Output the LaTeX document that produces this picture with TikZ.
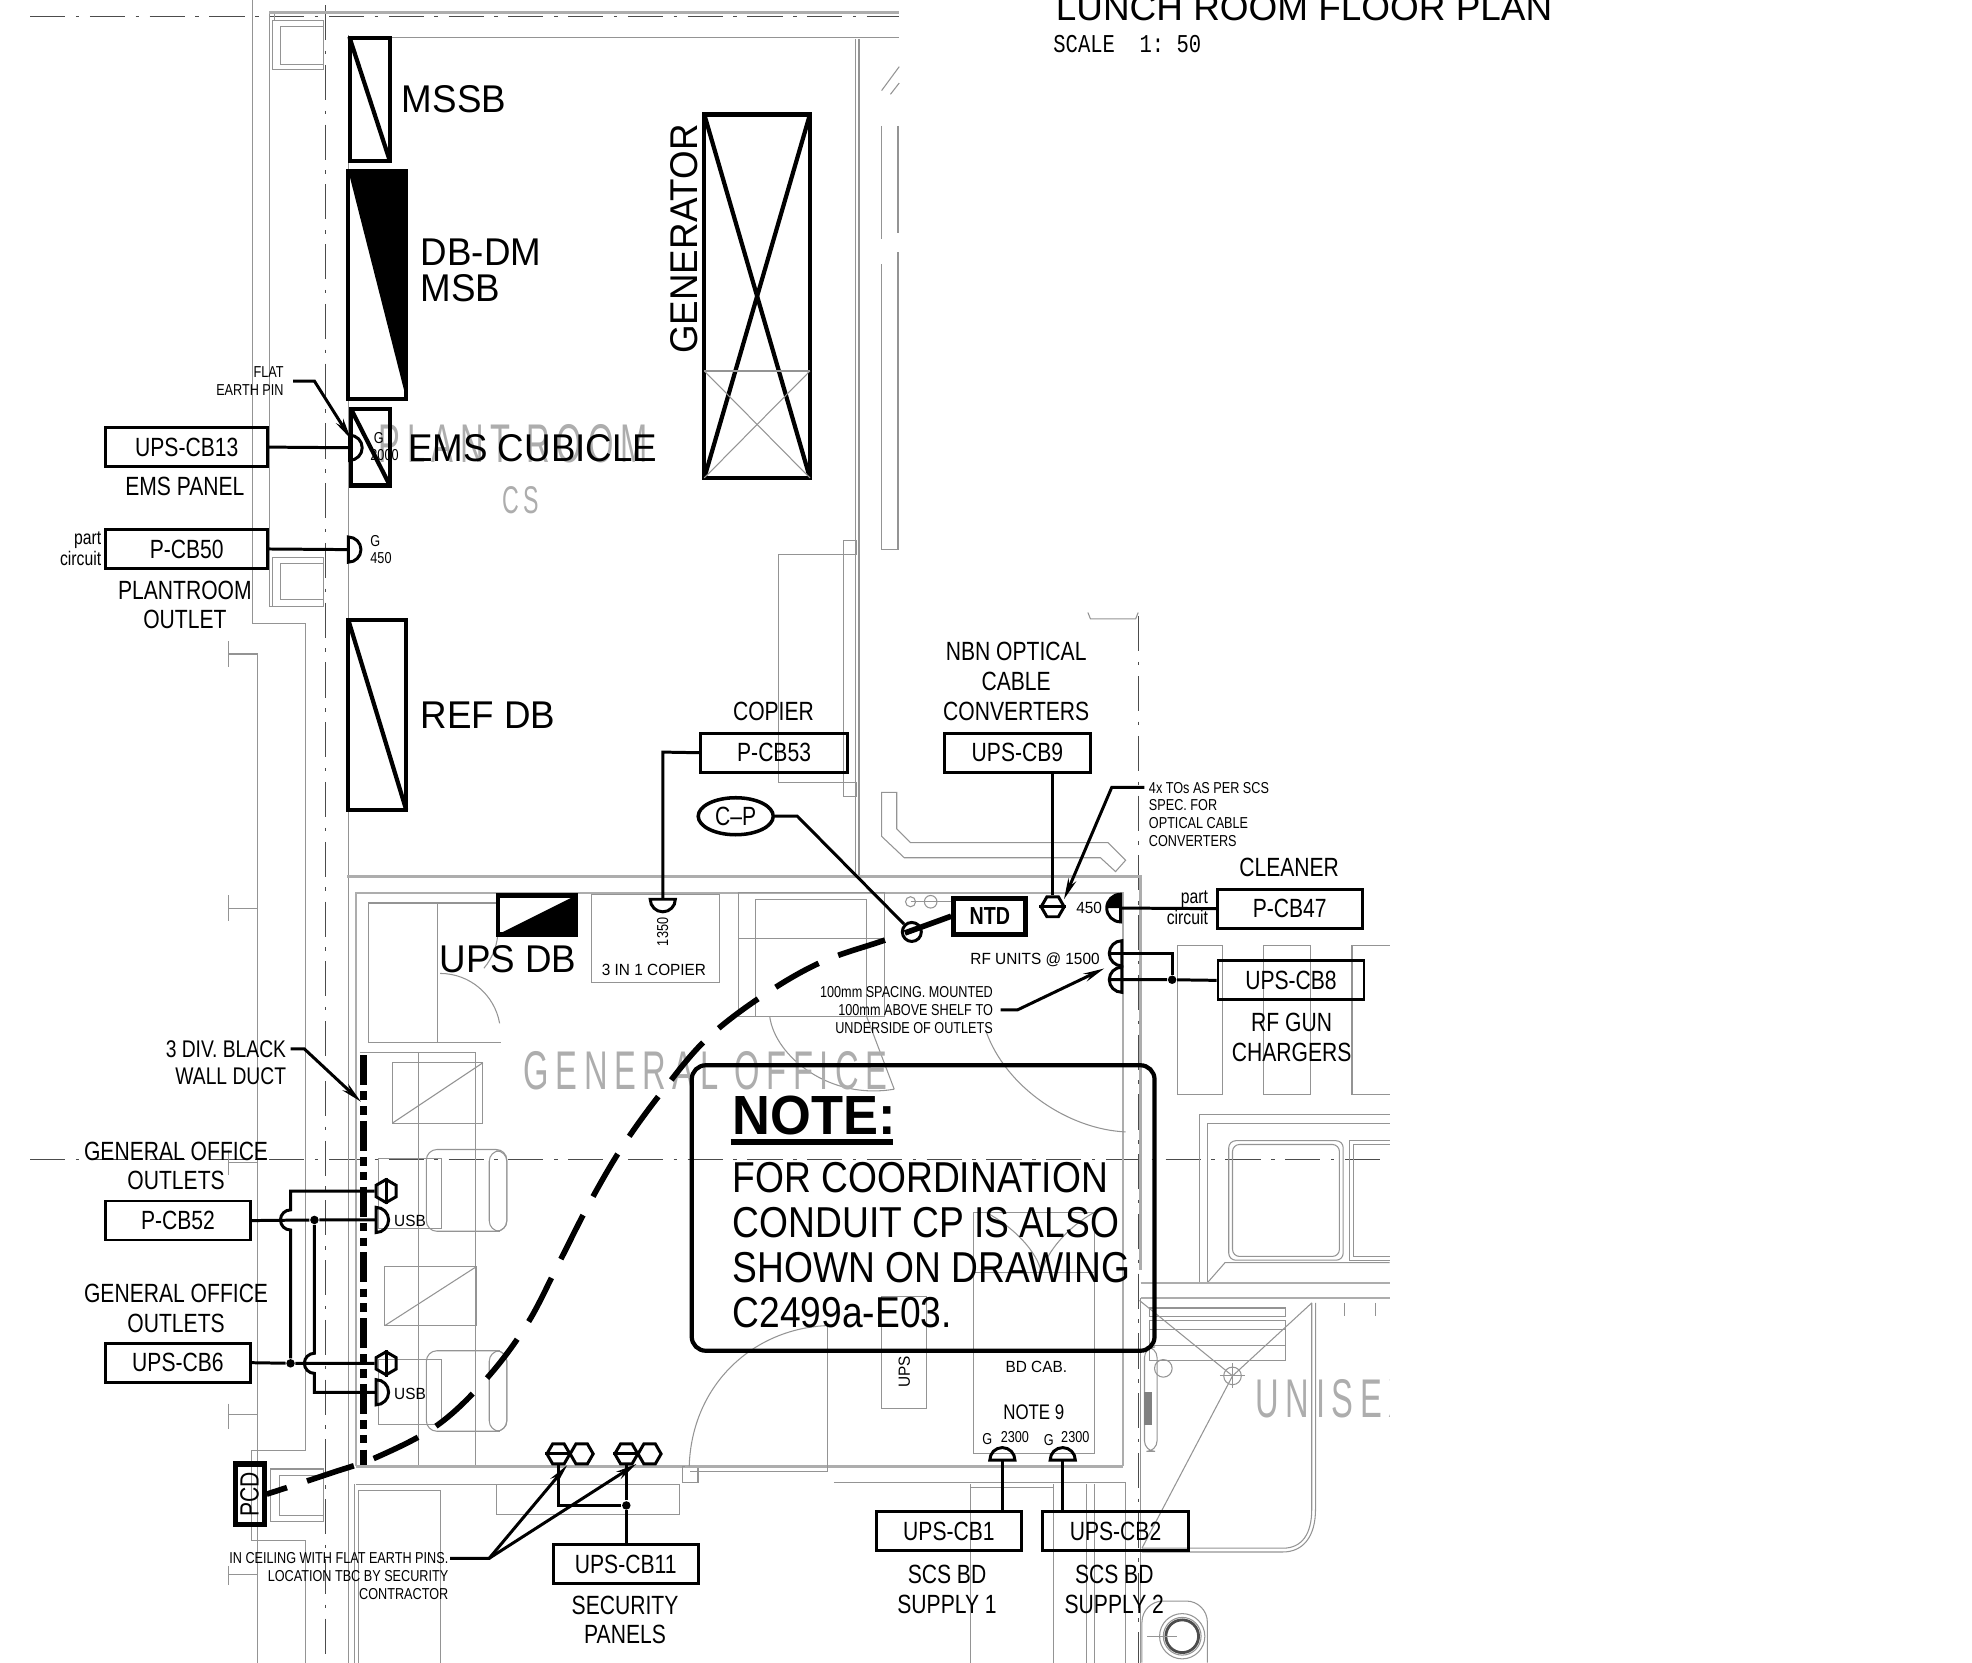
\documentclass[tikz,border=0pt]{standalone}
\usepackage{fontspec}
\usetikzlibrary{arrows.meta,shapes.geometric}
\setmainfont{Liberation Sans}
\newfontfamily\labelfont[FakeStretch=0.8]{Liberation Sans}
\newfontfamily\boardfont[FakeStretch=0.95]{Liberation Sans}
\newfontfamily\notefont[FakeStretch=0.86]{Liberation Sans}
\newfontfamily\roomfont[FakeStretch=0.6,LetterSpace=12]{Liberation Sans}
\newfontfamily\scalefont[FakeStretch=0.8]{Liberation Mono}
\tikzset{
  >={Stealth[length=6pt,width=2.4pt]},
  plan/.style={draw=black!42,line width=0.3pt},
  wall/.style={draw=black!32,line width=0.7pt},
  gridline/.style={draw=black!70,line width=0.35pt,dash pattern=on 10pt off 3pt on 1pt off 3pt},
  wire/.style={line width=0.85pt},
  board/.style={line width=1.2pt},
  conduit/.style={line width=1.6pt,dash pattern=on 14pt off 6pt},
  ductline/.style={line width=1.9pt,dash pattern=on 8.5pt off 1.8pt on 2.4pt off 1.8pt on 2.4pt off 1.8pt},
  cbbox/.style={draw,line width=0.8pt,minimum height=0.39cm,inner sep=0pt,font=\labelfont\fontsize{7.5}{8.5}\selectfont},
  tagtext/.style={inner sep=0pt,align=center,font=\labelfont\fontsize{7.5}{8.5}\selectfont},
  parttext/.style={inner sep=0pt,align=right,anchor=east,font=\labelfont\fontsize{5.6}{6}\selectfont},
  tinytext/.style={inner sep=0pt,font=\labelfont\fontsize{4.5}{5.05}\selectfont},
  smalltext/.style={inner sep=0pt,font=\boardfont\fontsize{4.6}{5.05}\selectfont},
  boardtext/.style={inner sep=0pt,align=left,anchor=west,font=\boardfont\fontsize{11}{10.2}\selectfont},
  roomtext/.style={inner sep=0pt,text=black!32,font=\roomfont\fontsize{15.5}{16}\selectfont},
  jdot/.style={circle,fill,inner sep=0pt,minimum size=0.085cm},
  hexflat/.style={draw,wire,regular polygon,regular polygon sides=6,inner sep=0pt,minimum size=0.23cm},
  hexup/.style={hexflat,shape border rotate=30},
  socket/.pic={\draw[wire] (0,10) arc[start angle=90,end angle=-90,radius=10] -- cycle;}
}
\begin{document}
\begin{tikzpicture}[x=0.012577cm,y=-0.012577cm]
\useasboundingbox (0,0) rectangle (1568,1322);
\draw[gridline] (24,13) -- (715,13);
\draw[gridline] (24,922) -- (1105,922);
\draw[gridline] (259,4) -- (259,1322);
\draw[gridline] (905,490) -- (905,1322);
\draw[plan] (201,0) -- (201,496) -- (243,496) -- (243,1153) -- (200,1153) -- (200,1225) -- (243,1225) -- (243,1322);
\draw[plan] (214,10) -- (214,482) -- (258,482);
\draw[plan] (218,10) -- (218,17);
\draw[wall] (214,10) -- (715,10);
\draw[plan] (276,30) -- (715,30);
\draw[plan] (277,28) -- (277,1322);
\draw[plan] (205,520) -- (205,1322);
\draw[plan] (217,16) rectangle (257,55);
\draw[plan] (223,21) rectangle (257,51);
\draw[plan] (217,443) rectangle (257,482);
\draw[plan] (223,448) rectangle (257,477);
\draw[plan] (215,1168) rectangle (257,1210);
\draw[plan] (222,1173) rectangle (257,1205);
\draw[plan] (182,510) -- (182,530);
\draw[plan] (182,520) -- (205,520);
\draw[plan] (182,712) -- (182,732);
\draw[plan] (182,722) -- (205,722);
\draw[plan] (182,914) -- (182,934);
\draw[plan] (182,924) -- (205,924);
\draw[plan] (182,1116) -- (182,1136);
\draw[plan] (182,1125) -- (205,1125);
\draw[plan] (182,1245) -- (182,1260);
\draw[plan] (182,1252) -- (205,1252);
\draw[plan] (680,31) -- (680,698);
\draw[plan] (683,31) -- (683,698);
\draw[plan] (701,100) -- (701,190);
\draw[plan] (714,100) -- (714,185);
\draw[plan] (701,210) -- (701,437) -- (714,437) -- (714,200);
\draw[plan] (701,72) -- (715,53);
\draw[plan] (708,75) -- (715,66);
\draw[plan] (619,441) rectangle (671,622);
\draw[plan] (671,430) rectangle (681,441);
\draw[plan] (671,622) rectangle (681,633);
\draw[plan] (701,630) -- (713,630) -- (713,659) -- (724,670) -- (881,670) -- (895,684) -- (887,693) -- (875,682) -- (719,682) -- (701,665) -- cycle;
\draw[plan] (865,487) -- (867,492) -- (903,492) -- (905,487);
\draw[wall] (276,697) -- (907,697) -- (907,1010);
\draw[wall] (283,1166) -- (283,710) -- (893,710) -- (893,1166);
\draw[plan] (285,1322) -- (285,1185) -- (350,1185) -- (350,1322);
\draw[plan] (282,1180) -- (282,1322);
\draw[wall] (283,1166) -- (545,1166);
\draw[plan] (283,1180) -- (395,1180);
\draw[plan] (395,1180) rectangle (540,1204);
\draw[plan] (543,1166) rectangle (555,1179);
\draw[plan] (549,1170) -- (658,1170);
\draw[wall] (545,1166) -- (893,1166);
\draw[plan] (663,1179) -- (895,1179) -- (895,1322);
\draw[plan] (293,829) -- (293,718) -- (396,718);
\draw[plan] (293,829) -- (398,829);
\draw[plan] (348,719) -- (348,829);
\draw[plan] (396,739) arc[start angle=0,end angle=40,radius=48];
\draw[plan] (350,774) arc[start angle=-90,end angle=-10,radius=48];
\draw[plan] (470,711) rectangle (572,781);
\draw[plan] (587,710) rectangle (703,808);
\draw[plan] (601,715) rectangle (689,808);
\draw[plan] (587,746) -- (703,746);
\draw[plan] (612,808) .. controls (616,840) and (660,875) .. (711,866);
\draw[plan] (711,866) -- (689,808);
\draw[plan] (784,820) .. controls (800,865) and (850,898) .. (895,900);
\draw[plan] (286,837) -- (378,837) -- (378,1165);
\draw[plan] (333,837) -- (333,1165);
\draw[plan] (312,845) rectangle (384,893);
\draw[plan] (312,893) -- (384,845);
\draw[plan] (306,1007) rectangle (379,1054);
\draw[plan] (306,1054) -- (379,1007);
\draw[plan,rounded corners=3pt] (339,914) rectangle (403,979);
\draw[plan,rounded corners=3pt] (389,915) rectangle (403,979);
\draw[plan] (301,921) rectangle (351,977);
\draw[plan,rounded corners=3pt] (339,1074) rectangle (403,1138);
\draw[plan,rounded corners=3pt] (389,1074) rectangle (403,1138);
\draw[plan] (301,1081) rectangle (351,1133);
\draw[plan] (548,1166) .. controls (550,1100) and (600,1056) .. (658,1054);
\draw[plan] (658,1054) -- (658,1170);
\draw[plan] (701,1031) rectangle (737,1120);
\draw[plan] (774,964) rectangle (870,1156);
\draw[plan] (774,1012) -- (870,1012);
\draw[plan] (784,964) .. controls (805,975) and (825,995) .. (828,1012);
\draw[plan] (870,964) .. controls (850,975) and (832,995) .. (828,1012);
\draw[plan] (772,1322) -- (772,1180);
\draw[plan] (838,1322) -- (838,1180);
\draw[plan] (772,1183) -- (838,1183);
\draw[plan] (864,1322) -- (864,1180);
\draw[plan] (870,1322) -- (870,1180);
\draw[plan] (724,717) circle [radius=4];
\draw[plan] (740,717) circle [radius=5];
\draw[plan] (724,717) -- (757,717);
\draw[plan] (936,752) rectangle (972,870);
\draw[plan] (1005,752) rectangle (1042,870);
\draw[plan] (1105,752) -- (1075,752) -- (1075,870) -- (1105,870);
\draw[plan] (1105,886) -- (954,886) -- (954,1020);
\draw[plan] (1105,893) -- (960,893) -- (960,1020);
\draw[plan,rounded corners=2pt] (977,907) rectangle (1068,1002);
\draw[plan,rounded corners=2pt] (980,910) rectangle (1065,999);
\draw[plan] (1105,907) -- (1073,907) -- (1073,1002) -- (1105,1002);
\draw[plan] (1105,910) -- (1076,910) -- (1076,999) -- (1105,999);
\draw[plan] (960,1020) -- (974,1004) -- (1105,1004);
\draw[wall] (907,1020) -- (1105,1020);
\draw[wall] (907,1032) -- (1105,1032);
\draw[plan] (907,1032) -- (907,1322);
\draw[plan] (914,1040) rectangle (1022,1047);
\draw[plan] (914,1050) rectangle (1022,1057);
\draw[plan] (914,1057) rectangle (1022,1070);
\draw[plan] (914,1070) rectangle (1022,1082);
\draw[plan] (1069,1036) -- (1069,1046);
\draw[plan] (1094,1036) -- (1094,1046);
\draw[plan] (906,1034) -- (980,1094) -- (1043,1036);
\draw[plan] (980,1094) -- (908,1231);
\draw[plan] (980,1094) circle [radius=7];
\draw[plan] (970,1094) -- (990,1094);
\draw[plan] (980,1084) -- (980,1104);
\draw[plan] (1043,1036) -- (1043,1200) .. controls (1043,1220) and (1035,1231) .. (1020,1231) -- (908,1231);
\draw[plan] (1046,1036) -- (1046,1200) .. controls (1046,1222) and (1036,1234) .. (1020,1234) -- (908,1234);
\draw[plan] (925,1088) circle [radius=7];
\draw[plan,rounded corners=3pt] (910,1071) rectangle (920,1154);
\fill[black!50] (910,1107) rectangle (916,1133);
\draw[plan,rounded corners=6pt] (908,1322) -- (908,1273) -- (960,1273) -- (960,1322);
\draw[plan] (940,1301) circle [radius=18];
\draw[plan] (940,1301) circle [radius=15];
\draw[black!70,line width=0.8pt] (940,1301) circle [radius=13];
\draw[plan] (912,1301) -- (936,1301);
\node[roomtext] (plantroom) at (408,353) {PLANT ROOM};
\node[roomtext,font=\roomfont\fontsize{11}{12}\selectfont] (plantcs) at (414,398) {CS};
\node[roomtext] (genoffice) at (561,851) {GENERAL OFFICE};
\begin{scope}
\clip (990,1080) rectangle (1105,1145);
\node[roomtext,anchor=west] (unisex) at (998,1112) {UNISEX};
\end{scope}
\draw[board] (278,30) rectangle (310,128);
\draw[board] (278,30) -- (310,128);
\draw[board] (277,136) rectangle (323,317);
\fill (277,136) -- (323,136) -- (323,317) -- cycle;
\draw[board] (279,325) rectangle (310,386);
\draw[board] (279,325) -- (310,386);
\draw[board] (560,91) rectangle (644,380);
\draw[board] (560,91) -- (644,380);
\draw[board] (644,91) -- (560,380);
\draw[plan] (560,295) -- (644,295);
\draw[plan] (560,295) -- (644,380);
\draw[plan] (644,295) -- (560,380);
\draw[board] (277,493) rectangle (323,644);
\draw[board] (277,493) -- (323,644);
\draw[board] (396,712) rectangle (458,743);
\fill (396,743) -- (458,712) -- (458,743) -- cycle;
\node[boardtext] (mssb) at (319,79) {MSSB};
\node[boardtext] (dbdm) at (334,215) {DB-DM\\MSB};
\node[boardtext] (emscub) at (324,356) {EMS CUBICLE};
\node[boardtext] (refdb) at (334,569) {REF DB};
\node[boardtext] (upsdb) at (349,763) {UPS DB};
\node[boardtext,anchor=center,rotate=90] (generator) at (544,190) {GENERATOR};
\node[anchor=base west,inner sep=0pt,font=\fontsize{10.5}{12}\selectfont] (title) at (839,16.5) {LUNCH ROOM FLOOR PLAN};
\node[anchor=west,inner sep=0pt,font=\scalefont\fontsize{7.3}{8}\selectfont] (scale) at (837,35) {SCALE\ \ 1:\ 50};
\node[cbbox,minimum width=1.62cm] (ups13) at (148.5,355.5) {UPS-CB13};
\node[tagtext] (emspanel) at (147,387) {EMS PANEL};
\node[cbbox,minimum width=1.62cm] (pcb50) at (148.5,436.5) {P-CB50};
\node[parttext] (part50) at (81,436) {part\\circuit};
\node[tagtext] (plantoutlet) at (147,481) {PLANTROOM\\OUTLET};
\node[tinytext,align=right,anchor=east] (flatpin) at (226,303) {FLAT\\EARTH PIN};
\coordinate (flattip) at (279,349);
\draw[wire,->] ([xshift=2.5pt]flatpin.east) -- (250,303) -- (flattip);
\coordinate (ems) at (278,356);
\pic at (ems) {socket};
\draw[wire] (ups13.east) -- (ems);
\node[tinytext,align=left,anchor=west] (emsh) at (294,355) {\hspace{1pt}G\\2000};
\coordinate (plantsk) at (277,437);
\pic at (plantsk) {socket};
\draw[wire] (pcb50.east) -- (plantsk);
\node[tinytext,align=left,anchor=west] (planth) at (294,437) {G\\450};
\node[tagtext] (copierlbl) at (615,566) {COPIER};
\node[cbbox,minimum width=1.47cm] (pcb53) at (615.5,598.5) {P-CB53};
\coordinate (copysk) at (527,715);
\pic[rotate=-90] at (copysk) {socket};
\draw[wire] (pcb53.west) -- (527,598) -- (copysk);
\node[tinytext,rotate=90] (copyh) at (527,741) {1350};
\node[smalltext] (copyname) at (520,771) {3 IN 1 COPIER};
\node[tagtext] (nbnlbl) at (808,542) {NBN OPTICAL\\CABLE\\CONVERTERS};
\node[cbbox,minimum width=1.46cm] (ups9) at (809,598.5) {UPS-CB9};
\node[hexflat] (nbnhex) at (837,721) {};
\draw[wire] (nbnhex.180) -- (nbnhex.0);
\draw[wire] (ups9.south -| nbnhex) -- (nbnhex.90);
\node[tinytext,align=left,anchor=west] (tosnote) at (913,647.5) {4x TOs AS PER SCS\\SPEC. FOR\\OPTICAL CABLE\\CONVERTERS};
\coordinate (tostip) at (846,715);
\draw[wire,->] (910,626) -- (884,626) -- (tostip);
\node[draw,ellipse,line width=1pt,minimum width=0.75cm,minimum height=0.37cm,inner sep=0pt,font=\labelfont\fontsize{7.5}{8.5}\selectfont] (cp) at (585,649) {C–P};
\node[draw,circle,wire,minimum size=0.19cm,inner sep=0pt] (cpdrop) at (725,741) {};
\draw[wire] (cp.east) -- (634,649) -- (cpdrop);
\node[draw,line width=1.5pt,minimum width=0.72cm,minimum height=0.36cm,inner sep=0pt,font=\labelfont\bfseries\fontsize{7}{8.5}\selectfont] (ntd) at (787,728.5) {NTD};
\node[draw,line width=1.5pt,rotate=90,minimum width=0.6cm,minimum height=0.29cm,inner sep=0pt,font=\labelfont\fontsize{7.5}{8.5}\selectfont] (pcd) at (198.5,1188) {PCD};
\draw[conduit] plot[smooth,tension=0.6] coordinates {(ntd.west) (705,747) (653,765) (606,792) (562,826) (528,866) (496,910) (469,956) (444,1005) (419,1053) (387,1096) (348,1133) (301,1158) (264,1171) (pcd.south)};
\node[tagtext] (cleanerlbl) at (1025,690) {CLEANER};
\node[cbbox,minimum width=1.45cm] (pcb47) at (1025.5,722.5) {P-CB47};
\node[parttext] (part47) at (961,721.5) {part\\circuit};
\node[smalltext] (cleanerh) at (866,722) {450};
\coordinate (cleanersk) at (891,722);
\fill (891,711) arc[start angle=-90,end angle=-180,radius=11] -- (cleanersk) -- cycle;
\draw[wire] (891,711) arc[start angle=-90,end angle=-270,radius=11] -- cycle;
\draw[wire] (pcb47.west) -- (cleanersk);
\node[smalltext] (rfunits) at (823,763) {RF UNITS @ 1500};
\node[cbbox,minimum width=1.46cm] (ups8) at (1026.5,779.5) {UPS-CB8};
\node[tagtext] (rfgun) at (1027,825) {RF GUN\\CHARGERS};
\node[jdot] (rfdot) at (932,779) {};
\coordinate (rfa) at (892,758);
\coordinate (rfb) at (892,779);
\pic[rotate=180] at (rfa) {socket};
\pic[rotate=180] at (rfb) {socket};
\draw[wire] (883,758) -- (932,758) -- (rfdot);
\draw[wire] (883,779) -- (rfdot) -- (ups8.west);
\node[tinytext,align=right,anchor=east] (rfnote) at (790,803) {100mm SPACING. MOUNTED\\100mm ABOVE SHELF TO\\UNDERSIDE OF OUTLETS};
\coordinate (rftip) at (878,770);
\draw[wire,->] ([xshift=2pt]rfnote.east) -- (809,803) -- (rftip);
\draw[ductline] (289,839) -- (289,1165);
\node[tinytext,align=right,anchor=east,font=\labelfont\fontsize{6.85}{7.9}\selectfont] (ductlbl) at (228,845) {3 DIV. BLACK\\WALL DUCT};
\coordinate (ducttip) at (287,876);
\draw[wire,->] (231,834) -- (242,834) -- (ducttip);
\node[tagtext] (golbla) at (140,927) {GENERAL OFFICE\\OUTLETS};
\node[cbbox,minimum width=1.45cm] (pcb52) at (141.5,970.5) {P-CB52};
\node[tagtext] (golblb) at (140,1040) {GENERAL OFFICE\\OUTLETS};
\node[cbbox,minimum width=1.45cm] (ups6) at (141.5,1083.5) {UPS-CB6};
\node[hexup] (gohexa) at (307,947) {};
\draw[wire] (gohexa.90) -- (gohexa.270);
\node[hexup] (gohexb) at (307,1084) {};
\draw[wire] (gohexb.90) -- (gohexb.270);
\coordinate (usba) at (299,970);
\coordinate (usbb) at (299,1107);
\pic at (usba) {socket};
\pic at (usbb) {socket};
\node[smalltext] (usbatxt) at (326,971) {USB};
\node[smalltext] (usbbtxt) at (326,1108) {USB};
\node[jdot] (jpa) at (250,970) {};
\node[jdot] (jpb) at (231,1084) {};
\draw[wire] (pcb52.east) -- (jpa) -- (usba);
\draw[wire] (ups6.east) -- (jpb) -- (gohexb.180);
\draw[wire] (gohexa.180) -- (231,947) -- (231,962) arc[start angle=-90,end angle=-270,radius=8] -- (jpb);
\draw[wire] (jpa) -- (250,1076) arc[start angle=-90,end angle=-270,radius=8] -- (250,1107) -- (usbb);
\node[hexflat] (secaa) at (444,1156) {};
\draw[wire] (secaa.180) -- (secaa.0);
\node[hexflat] (secab) at (462.5,1156) {};
\node[hexflat] (secba) at (498,1156) {};
\draw[wire] (secba.180) -- (secba.0);
\node[hexflat] (secbb) at (516.5,1156) {};
\node[cbbox,minimum width=1.45cm] (ups11) at (497.5,1243.5) {UPS-CB11};
\node[tagtext] (seclbl) at (497,1288) {SECURITY\\PANELS};
\node[jdot] (secdot) at (498,1197) {};
\draw[wire] (ups11.north -| secba) -- (secdot) -- (secba.270);
\draw[wire] (secdot) -- (444,1197) -- (secaa.270);
\node[tinytext,align=right,anchor=east] (secnote) at (357,1253) {IN CEILING WITH FLAT EARTH PINS.\\LOCATION TBC BY SECURITY\\CONTRACTOR};
\coordinate (sectipa) at (451,1165);
\coordinate (sectipb) at (506,1164);
\draw[wire,->] (358,1239) -- (389,1239) -- (sectipa);
\draw[wire,->] (389,1239) -- (sectipb);
\node[cbbox,minimum width=1.45cm] (ups1) at (754.5,1217.5) {UPS-CB1};
\node[cbbox,minimum width=1.46cm] (ups2) at (887,1217.5) {UPS-CB2};
\node[tagtext] (scsa) at (753,1263.5) {SCS BD\\SUPPLY 1};
\node[tagtext] (scsb) at (886,1263.5) {SCS BD\\SUPPLY 2};
\coordinate (scsska) at (797,1161);
\coordinate (scsskb) at (845,1161);
\pic[rotate=90] at (scsska) {socket};
\pic[rotate=90] at (scsskb) {socket};
\draw[wire] (scsska) -- (ups1.north -| scsska);
\draw[wire] (scsskb) -- (ups2.north -| scsskb);
\node[tinytext] (scsga) at (785,1144) {G};
\node[tinytext] (scsha) at (807,1143) {2300};
\node[tinytext] (scsgb) at (834,1145) {G};
\node[tinytext] (scshb) at (855,1143) {2300};
\node[tagtext,font=\labelfont\fontsize{6}{7}\selectfont] (note9) at (822,1123) {NOTE 9};
\node[smalltext] (bdcab) at (824,1087) {BD CAB.};
\node[smalltext,rotate=90] (upsrack) at (719,1091) {UPS};
\draw[board,rounded corners=4pt] (550,847) rectangle (918,1074);
\node[inner sep=0pt,anchor=west,font=\boardfont\bfseries\fontsize{15.7}{18}\selectfont] (notehead) at (582,887) {NOTE:};
\draw[line width=1.6pt] (581,908) -- (710,908);
\node[inner sep=0pt,anchor=north west,align=left,font=\notefont\fontsize{12.3}{12.8}\selectfont] (notebody) at (582,924) {FOR COORDINATION\\CONDUIT CP IS ALSO\\SHOWN ON DRAWING\\C2499a-E03.};
\end{tikzpicture}
\end{document}
